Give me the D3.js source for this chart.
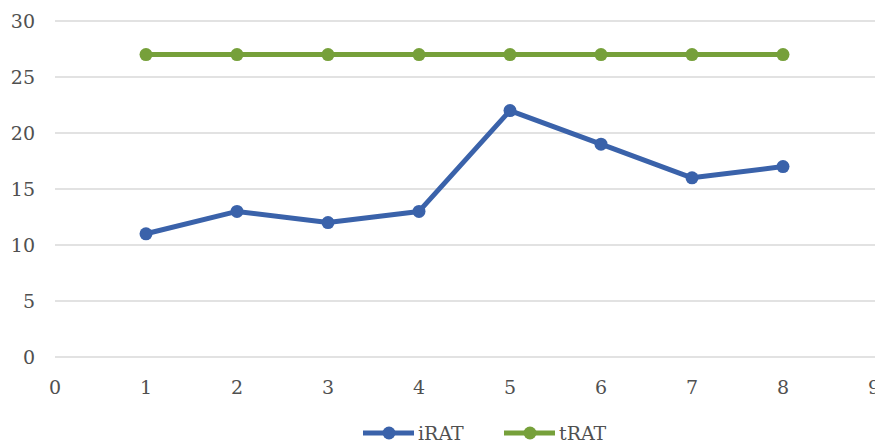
<!DOCTYPE html>
<html><head><meta charset="utf-8">
<script src="https://cdn.jsdelivr.net/npm/d3@7"></script>
<style>body{margin:0;background:#fff}svg{display:block}</style>
</head><body>
<svg id="c" width="875" height="446"></svg>
<script>
const xValues = [1,2,3,4,5,6,7,8];
const iRAT = [11,13,12,13,22,19,16,17];
const tRAT = [27,27,27,27,27,27,27,27];
const seriesNames = ["iRAT","tRAT"];
const xTicks = [0,1,2,3,4,5,6,7,8,9];
const yTicks = [0,5,10,15,20,25,30];
const colors = {iRAT:"#3a62aa", tRAT:"#76a03a"};

const svg = d3.select("#c");
const x = d3.scaleLinear().domain([0,9]).range([55,874]);
const y = d3.scaleLinear().domain([0,30]).range([357,21]);
const font = "'DejaVu Serif', serif";
const textColor = "#505050";

svg.append("g").selectAll("line").data(yTicks).join("line")
  .attr("x1",55).attr("x2",875).attr("y1",d=>y(d)).attr("y2",d=>y(d))
  .attr("stroke","#d9d9d9").attr("stroke-width",1.5);

svg.append("g").selectAll("text").data(yTicks).join("text")
  .attr("x",35).attr("y",d=>y(d)).attr("dy","0.36em").attr("text-anchor","end")
  .attr("font-family",font).attr("font-size",19).attr("fill",textColor).text(d=>d);

svg.append("g").selectAll("text").data(xTicks).join("text")
  .attr("x",d=>x(d)).attr("y",394).attr("text-anchor","middle")
  .attr("font-family",font).attr("font-size",19).attr("fill",textColor).text(d=>d);

const data = {iRAT, tRAT};
const line = d3.line().x((d,i)=>x(xValues[i])).y(d=>y(d));
seriesNames.slice().reverse().forEach(name=>{
  const g = svg.append("g");
  g.append("path").datum(data[name]).attr("d",line).attr("fill","none")
    .attr("stroke",colors[name]).attr("stroke-width",5).attr("stroke-linejoin","round");
  g.selectAll("circle").data(data[name]).join("circle")
    .attr("cx",(d,i)=>x(xValues[i])).attr("cy",d=>y(d)).attr("r",6.5).attr("fill",colors[name]);
});

const legendX = [363, 504];
seriesNames.forEach((name,i)=>{
  const g = svg.append("g").attr("transform",`translate(${legendX[i]},433)`);
  g.append("line").attr("x1",0).attr("x2",51).attr("stroke",colors[name]).attr("stroke-width",5);
  g.append("circle").attr("cx",26).attr("r",6.5).attr("fill",colors[name]);
  g.append("text").attr("x",55).attr("dy","0.36em").attr("font-family",font)
    .attr("font-size",19).attr("fill",textColor).text(name);
});
</script>
</body></html>
